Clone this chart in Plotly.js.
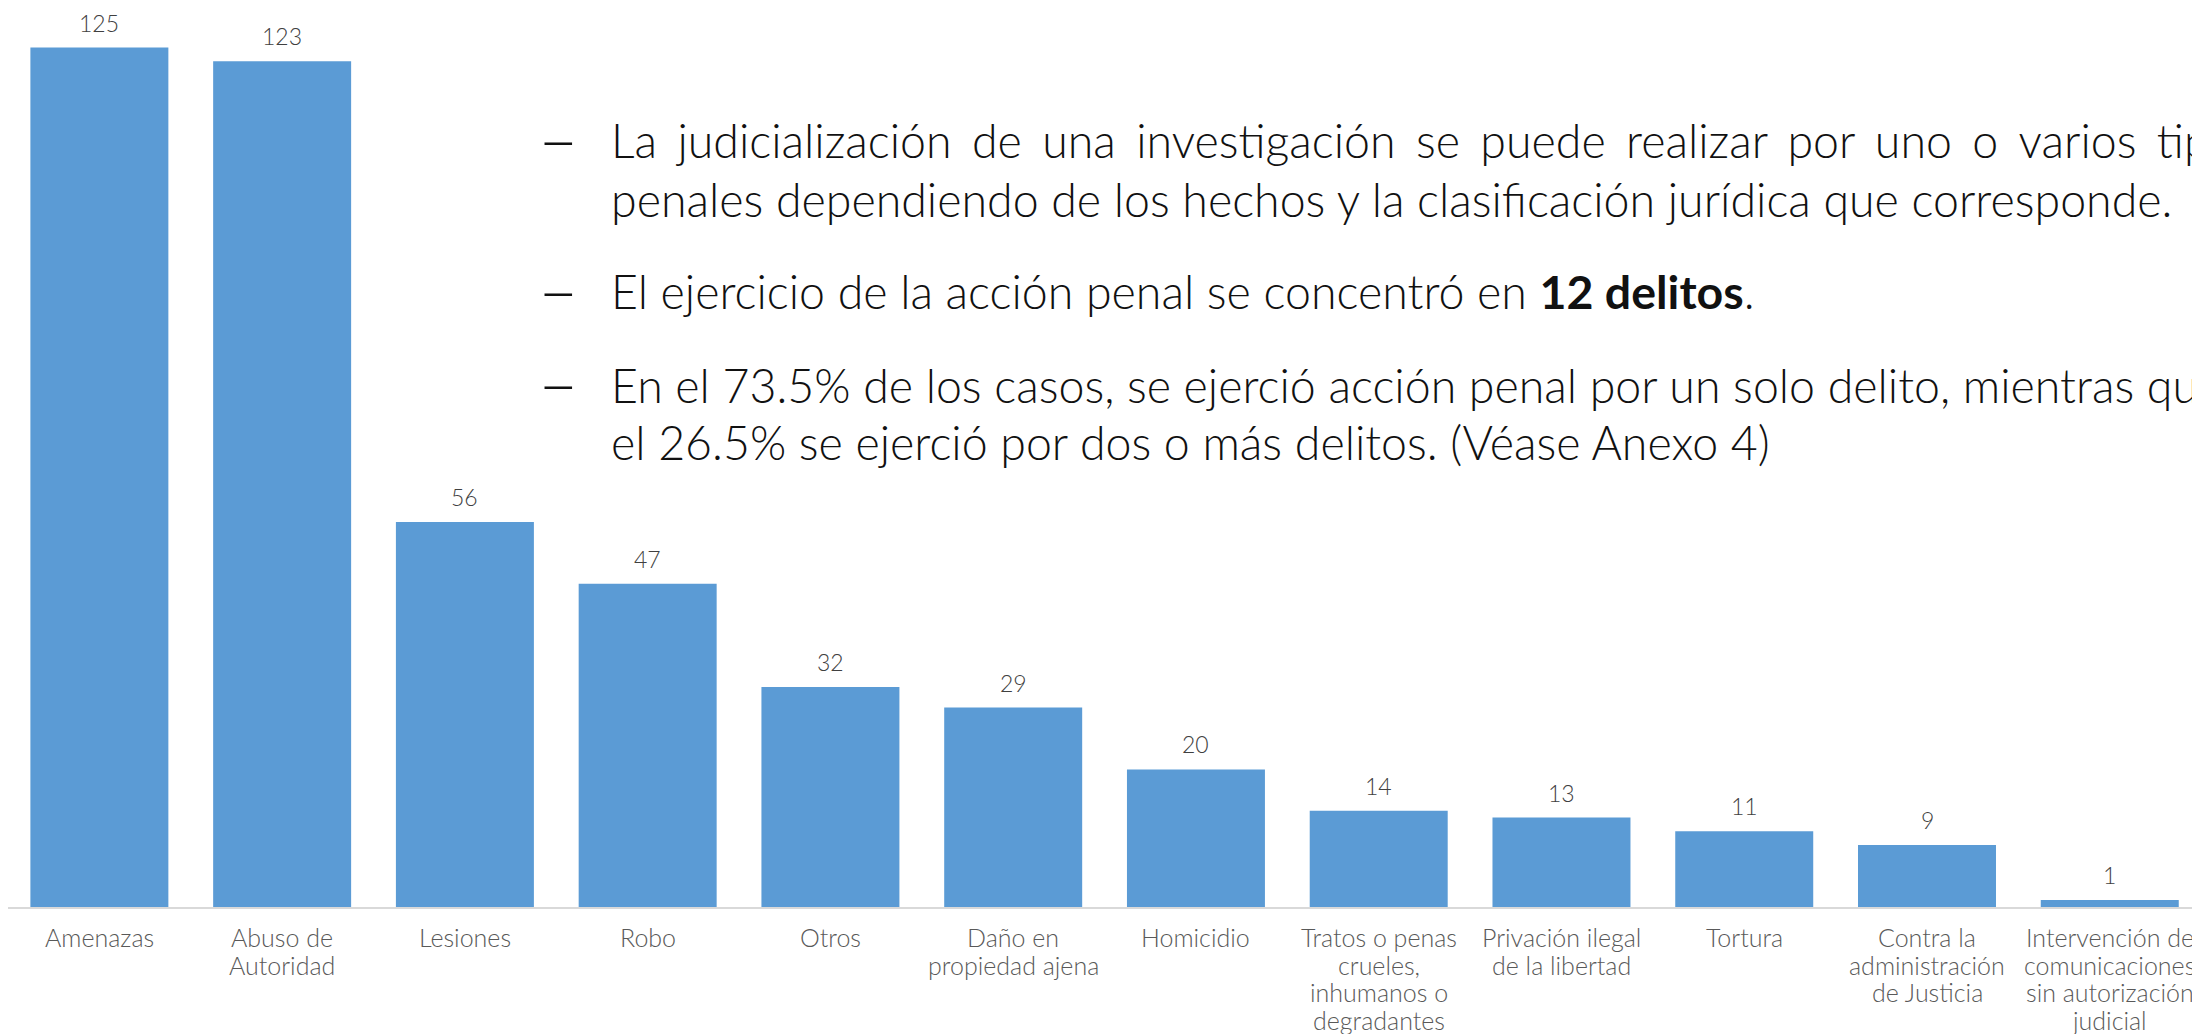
<!DOCTYPE html>
<html>
<head>
<meta charset="utf-8">
<script src="https://cdn.plot.ly/plotly-3.0.1.min.js"></script>
<style>html,body{margin:0;padding:0;background:#fff;}#chart{width:2192px;height:1034px;}</style>
</head>
<body>
<div id="chart"></div>
<script>
// ---- data ----
const categories = [
  "Amenazas",
  "Abuso de|Autoridad",
  "Lesiones",
  "Robo",
  "Otros",
  "Daño en|propiedad ajena",
  "Homicidio",
  "Tratos o penas|crueles,|inhumanos o|degradantes",
  "Privación ilegal|de la libertad",
  "Tortura",
  "Contra la|administración|de Justicia",
  "Intervención de|comunicaciones|sin autorización|judicial"
];
const values = [125, 123, 56, 47, 32, 29, 20, 14, 13, 11, 9, 1];
const bulletLines = [
  "La judicialización de una investigación se puede realizar por uno o varios tipos",
  "penales dependiendo de los hechos y la clasificación jurídica que corresponde.",
  "El ejercicio de la acción penal se concentró en <b>12 delitos</b>.",
  "En el 73.5% de los casos, se ejerció acción penal por un solo delito, mientras que",
  "el 26.5% se ejerció por dos o más delitos. (Véase Anexo 4)"
];
const bulletStarts = [true, false, true, true, false];

// ---- layout helpers ----
const W = 2192, H = 1034, ML = 8, MB = 127, MT = 0, MR = 0;
const plotW = W - ML - MR, plotH = H - MT - MB;
const px2x = p => (p - ML) / plotW;
const px2y = p => (H - MB - p) / plotH;
const FONT = "Lato, 'Open Sans', sans-serif";

// justify first line with non-collapsing spaces
function justify(s, gap) { return s.split(" ").join(gap); }

const lineY = [140, 198.5, 291, 384.5, 442];
const bodySize = 46.5;
const annotations = [];
bulletLines.forEach((t, i) => {
  const txt = i === 0 ? justify(t, "\u00A0\u2006") : t;
  annotations.push({
    xref: "paper", yref: "paper", x: px2x(609), y: px2y(lineY[i]),
    xanchor: "left", yanchor: "middle", showarrow: false,
    text: txt, font: {family: FONT, size: bodySize, color: "#111111", weight: 300}
  });
  if (bulletStarts[i]) {
    annotations.push({
      xref: "paper", yref: "paper", x: px2x(536), y: px2y(lineY[i] - 3),
      xanchor: "left", yanchor: "middle", showarrow: false,
      text: "–", font: {family: FONT, size: 70, color: "#111111", weight: 300}
    });
  }
});
// value labels
categories.forEach((c, i) => {
  annotations.push({
    x: i, y: values[i], xref: "x", yref: "y",
    text: String(values[i]), showarrow: false, yanchor: "bottom", yshift: 9,
    font: {family: FONT, size: 23, color: "#404040", weight: 300}
  });
});
// category labels (one annotation per line for tighter line spacing)
categories.forEach((c, i) => {
  c.split("|").forEach((ln, k) => {
    annotations.push({
      x: i, y: 0, xref: "x", yref: "y",
      text: ln, showarrow: false, xanchor: "center", yanchor: "middle",
      yshift: -(30 + 27.5 * k),
      font: {family: FONT, size: 25, color: "#595959", weight: 300}
    });
  });
});

const trace = {
  type: "bar", x: categories.map((c, i) => i), y: values,
  marker: {color: "#5B9BD5"}, hoverinfo: "none", cliponaxis: false
};

const layout = {
  width: W, height: H,
  margin: {l: ML, r: MR, t: MT, b: MB, pad: 0},
  paper_bgcolor: "#ffffff", plot_bgcolor: "#ffffff",
  showlegend: false, bargap: 0.245,
  xaxis: {
    range: [-0.5, 11.45], showticklabels: false,
    showgrid: false, zeroline: false, ticks: "",
    showline: true, linecolor: "#D9D9D9", linewidth: 2
  },
  yaxis: {range: [0, plotH / 6.876], visible: false, showgrid: false, zeroline: false},
  annotations: annotations
};
Plotly.newPlot("chart", [trace], layout, {staticPlot: true, displayModeBar: false});
</script>
</body>
</html>
